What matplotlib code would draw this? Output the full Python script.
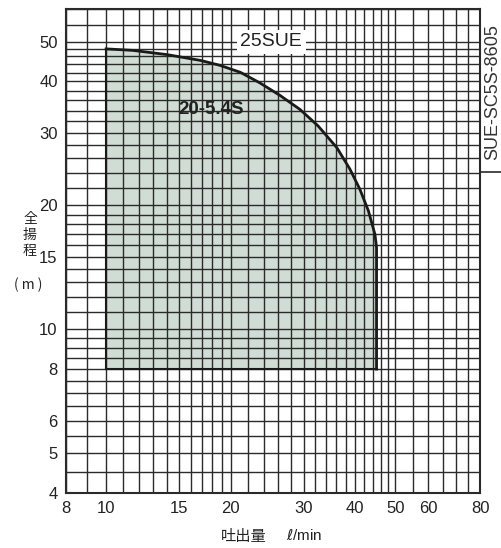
import matplotlib
matplotlib.use("Agg")
import matplotlib.pyplot as plt
import numpy as np

# performance curve 20-5.4S (flow l/min, head m)
FLOW = [10, 11.6, 14, 16.9, 18.8, 21.1, 23.5, 26.3, 29.4, 32.5, 36.1, 38.8, 41.0, 43.0, 44.6, 45, 45]
HEAD = [48, 47.6, 46.5, 45.0, 43.8, 42.1, 39.7, 37.0, 34.2, 31.2, 27.6, 24.5, 21.9, 19.4, 17.0, 15.8, 8]
HEAD_MIN = 8

X_TICKS = [8, 10, 15, 20, 30, 40, 50, 60, 80]
Y_TICKS = [4, 5, 6, 8, 10, 15, 20, 30, 40, 50]

# log paper grid
X_GRID = list(range(8, 20)) + list(range(20, 50, 2)) + list(range(50, 81, 5))
Y_GRID = list(np.arange(4, 10, 0.5)) + list(range(10, 20)) + list(range(20, 50, 2)) + [50, 55, 60]

NUM_FONT = ['Liberation Sans Narrow', 'Liberation Sans', 'DejaVu Sans']
JP_FONT = ['Noto Sans CJK JP', 'DejaVu Sans']

plt.rcParams['font.family'] = NUM_FONT

fig = plt.figure(figsize=(5.02, 5.48), dpi=100)
ax = fig.add_axes([66 / 502, 55 / 548, 414 / 502, 484 / 548])
ax.set_xscale('log')
ax.set_yscale('log')
ax.set_xlim(8, 80)
ax.set_ylim(4, 60)

# shaded operating range
ax.fill_between(FLOW, HEAD_MIN, HEAD, color='#d0ddd4', lw=0, zorder=1)
ax.plot(FLOW, HEAD, color='#1a1a1a', lw=2, zorder=3, solid_joinstyle='round')
ax.plot([FLOW[0], FLOW[0]], [HEAD_MIN, HEAD[0]], color='#1a1a1a', lw=1.5, zorder=3)
ax.plot([FLOW[0], FLOW[-1]], [HEAD_MIN, HEAD_MIN], color='#1a1a1a', lw=1.5, zorder=3)

for gx in X_GRID:
    ax.axvline(gx, color='#2a2a2a', lw=1.0, zorder=2)
for gy in Y_GRID:
    ax.axhline(gy, color='#2a2a2a', lw=1.0, zorder=2)

ax.xaxis.set_minor_locator(matplotlib.ticker.NullLocator())
ax.yaxis.set_minor_locator(matplotlib.ticker.NullLocator())
ax.set_xticks(X_TICKS)
ax.set_xticklabels([str(v) for v in X_TICKS])
ax.set_yticks(Y_TICKS)
ax.set_yticklabels([str(v) for v in Y_TICKS])
ax.tick_params(length=0, labelsize=12, colors='#222222', pad=6)
for s in ax.spines.values():
    s.set_linewidth(1.5)
    s.set_color('#2a2a2a')

ax.text(21.1, 50, '25SUE', fontsize=14, ha='left', va='center', color='#222222',
        bbox=dict(facecolor='white', edgecolor='none', pad=2.5), zorder=5)
ax.text(17.9, 34.1, '20-5.4S', fontsize=13.5, fontweight='bold', ha='center', va='center',
        color='#222222', zorder=5)

# side label box
fig.text(493 / 502, 1 - 92 / 548, 'SUE-SC5S-8605', rotation=90, fontsize=13,
         family=['Liberation Sans', 'DejaVu Sans'], color='#333333', ha='center', va='center')
fig.add_artist(plt.Line2D([480 / 502, 1.0], [1 - 172 / 548, 1 - 172 / 548],
                          transform=fig.transFigure, color='#2a2a2a', lw=1.2))

# axis titles
for i, ch in enumerate('全揚程'):
    fig.text(30 / 502, 1 - (219 + 16 * i) / 548, ch, fontsize=10, family=JP_FONT,
             ha='center', va='center', color='#222222')
fig.text(28 / 502, 1 - 285 / 548, '( m )', fontsize=10, family=JP_FONT,
         ha='center', va='center', color='#222222')
fig.text(244 / 502, 1 - 537 / 548, '吐出量', fontsize=11, family=JP_FONT,
         ha='center', va='center', color='#222222')
fig.text(286 / 502, 1 - 536 / 548, r'$\ell$/min', fontsize=11,
         family=['Liberation Sans', 'DejaVu Sans'], ha='left', va='center', color='#222222')

fig.savefig('out.png', dpi=100)
